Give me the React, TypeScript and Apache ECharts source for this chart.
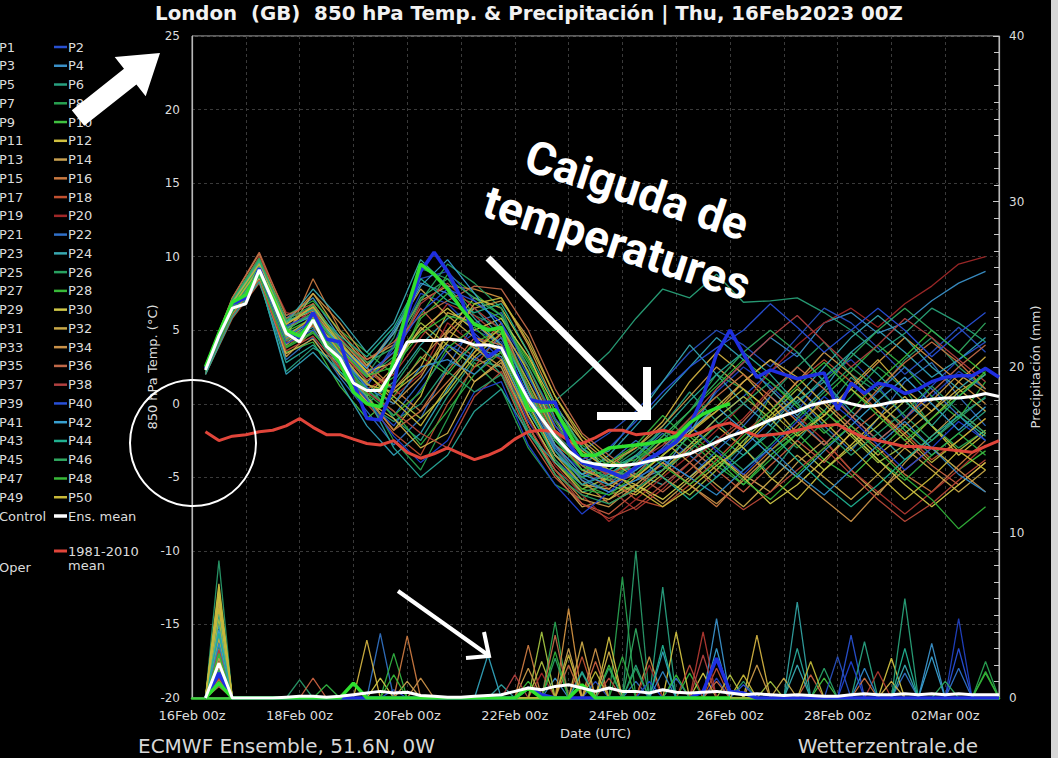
import React, { useEffect, useRef } from "react";
import * as echarts from "echarts";

// ---------- time grids (hours after 16Feb 00z) ----------
const HOURS6 = Array.from({ length: 60 }, (_, i) => 6 + 6 * i); // 6..360
const HOURS12 = Array.from({ length: 30 }, (_, i) => 6 + 12 * i); // 6..354
const X_TICK_LABELS = ["16Feb 00z", "", "18Feb 00z", "", "20Feb 00z", "", "22Feb 00z", "", "24Feb 00z", "", "26Feb 00z", "", "28Feb 00z", "", "02Mar 00z", ""];

// ---------- key lines, 6-hourly ----------
const ENS_MEAN = [2.3,4.6,6.5,6.8,9.1,7.0,4.8,4.2,5.7,3.9, 3.1,1.4,0.9,0.9,2.4,4.2,4.3,4.3,4.4,4.3, 4.0,4.0,3.8,2.0,0.3,-1.0,-2.2,-3.2,-3.9,-4.1, -4.2,-4.2,-4.1,-3.9,-3.7,-3.6,-3.4,-3.0,-2.6,-2.2, -1.9,-1.5,-1.1,-0.8,-0.5,-0.1,0.1,0.25,0.0,-0.2, -0.1,0.1,0.2,0.2,0.3,0.4,0.4,0.5,0.7,0.5];
const CONTROL = [2.4,4.6,6.8,7.2,9.2,7.0,5.0,4.5,6.2,4.4, 4.2,1.5,-1.0,-1.1,1.2,6.0,9.0,10.3,9.0,7.2, 4.5,3.2,3.8,2.2,0.3,0.1,0.1,-2.7,-4.0,-4.3, -4.6,-5.0,-4.3,-3.7,-3.2,-2.6,-1.5,0.5,3.4,5.0, 3.4,1.8,2.3,2.0,1.7,1.9,2.1,-0.4,1.4,0.7, 1.4,1.2,0.7,1.0,1.5,1.8,1.9,1.9,2.4,1.8];
const OPER = [2.5,4.8,6.9,7.4,9.0,7.2,5.0,4.6,5.7,4.0, 2.8,0.8,0.0,-0.2,3.0,6.5,9.5,8.8,7.8,6.5, 5.4,5.0,5.2,2.0,-0.4,-0.5,-0.4,-2.0,-3.5,-3.5, -3.0,-2.9,-2.8,-2.7,-2.5,-2.2,-1.3,-0.7,-0.3,0.0];
const CLIMATE = [-1.9,-2.5,-2.2,-2.1,-1.9,-1.8,-1.5,-1.0,-1.6,-2.1, -2.1,-2.4,-2.7,-2.8,-2.5,-3.3,-3.7,-3.4,-3.0,-3.4, -3.8,-3.5,-3.1,-2.4,-1.9,-1.8,-1.9,-2.5,-2.7,-2.3, -1.8,-1.8,-2.1,-2.0,-1.8,-2.0,-2.2,-1.9,-1.5,-1.3, -1.8,-2.2,-2.1,-2.0,-1.8,-1.6,-1.5,-1.4,-1.9,-2.3, -2.5,-2.7,-2.9,-2.9,-3.0,-3.1,-3.2,-3.3,-2.9,-2.5];
const ENS_MEAN_PRECIP = [0,2.1,0,0,0,0,0.05,0.1,0.1,0.05, 0.1,0.2,0.3,0.4,0.3,0.35,0.15,0.1,0.05,0.05, 0.1,0.15,0.2,0.4,0.6,0.5,0.7,0.8,0.6,0.4, 0.6,0.4,0.4,0.3,0.5,0.35,0.3,0.35,0.4,0.3, 0.2,0.25,0.2,0.15,0.2,0.15,0.1,0.1,0.2,0.25, 0.2,0.2,0.25,0.2,0.25,0.2,0.25,0.2,0.2,0.2];
const CONTROL_PRECIP = [[12,1.5],[150,0.6],[156,0.2],[228,0.4],[234,2.4],[240,0.4],[246,0.3]];
const OPER_PRECIP = [[12,0.9],[72,0.9],[150,0.6],[174,0.8]];

// ---------- members, 850 hPa temperature, 12-hourly (6..354 h) ----------
const P1 = [2.2,6.4,9.0,4.5,5.8,3.5,1.2,3.8,7.5,6.8,5.0,4.2,0.5,-3.0,-4.5,-5.2,-4.8,-3.2,-1.5,0.8,2.5,1.2,-0.5,1.8,3.0,1.2,-1.0,0.5,2.2,1.0];
const P2 = [2.4,6.8,9.4,5.2,6.0,2.8,0.2,-1.5,1.0,3.5,4.8,3.0,-1.2,-3.8,-5.5,-4.6,-5.0,-4.2,-2.8,-1.0,0.5,2.2,3.5,1.5,-0.8,-2.5,-1.0,1.2,3.0,4.2];
const P3 = [2.1,6.2,8.6,3.0,4.5,1.8,-0.5,-2.8,-1.0,2.5,5.5,6.2,2.0,-1.5,-3.5,-4.8,-3.6,-2.0,-3.5,-5.0,-3.0,-1.2,0.5,-1.5,-3.2,-1.0,1.5,2.8,0.5,-1.5];
const P4 = [2.3,6.6,9.2,5.8,7.2,4.5,2.5,5.0,8.2,7.5,5.5,3.8,-0.5,-3.5,-5.0,-6.0,-5.2,-4.5,-2.0,1.0,2.8,4.5,3.2,5.5,6.2,4.8,5.5,7.0,8.2,9.0];
const P5 = [2.5,6.9,9.6,4.2,5.2,2.0,0.0,1.5,4.0,5.8,6.5,4.5,1.0,-2.5,-4.2,-3.8,-4.8,-5.5,-4.0,-2.2,-3.5,-1.8,0.2,1.5,-0.5,-2.0,-3.8,-2.5,-0.8,0.4];
const P6 = [2.0,6.0,8.5,2.2,3.8,2.8,1.5,-1.0,-2.5,0.5,3.0,2.5,-2.0,-4.5,-6.0,-5.5,-3.8,-1.5,0.8,-1.2,-3.0,-4.8,-2.5,-0.5,1.8,0.2,-1.8,-3.5,-2.0,-0.5];
const P7 = [2.4,6.5,9.3,5.5,6.5,4.0,2.0,4.5,9.2,8.5,6.0,5.2,1.5,-2.0,-3.8,-4.5,-3.2,-1.8,-3.0,-4.5,-2.8,0.5,2.5,4.2,2.0,0.8,3.0,4.5,2.5,1.0];
const P8 = [2.3,6.7,9.5,4.8,5.5,3.2,0.8,-2.5,-4.5,-1.0,2.8,1.0,-3.0,-5.5,-6.5,-5.0,-4.0,-2.5,-0.5,2.0,1.0,-1.5,-3.0,-1.2,0.5,2.5,1.0,-1.5,-3.0,-1.8];
const P9 = [2.6,7.0,9.8,6.0,7.0,5.0,3.5,2.0,6.0,8.8,7.5,6.0,3.0,-0.5,-2.8,-4.0,-4.5,-3.0,-1.0,0.5,-1.5,-3.2,-1.8,0.5,2.2,4.0,2.5,0.5,-1.0,1.5];
const P10 = [2.2,6.3,8.8,3.5,4.2,1.2,-1.0,0.5,3.2,2.0,4.2,5.0,0.8,-3.2,-5.5,-6.2,-5.5,-4.0,-2.2,-3.8,-5.5,-3.5,-2.0,-3.8,-5.0,-3.2,-1.5,-3.0,-4.5,-3.2];
const P11 = [2.4,6.6,9.0,4.0,6.2,3.8,1.5,3.0,5.5,4.0,2.5,3.5,-0.8,-4.0,-5.8,-5.0,-3.5,-5.0,-6.2,-4.5,-2.5,-0.8,1.0,-0.5,-2.2,-4.0,-2.8,-1.0,0.8,2.0];
const P12 = [2.1,6.1,8.4,4.5,5.0,2.5,0.5,-1.8,0.5,5.0,7.2,6.5,3.5,-1.0,-4.0,-5.5,-6.2,-4.8,-3.0,-1.5,-3.0,-5.0,-6.5,-4.5,-2.8,-1.0,0.5,-1.5,-3.5,-2.0];
const P13 = [2.5,6.8,9.6,5.0,6.8,4.2,2.2,1.0,2.5,6.2,5.5,4.0,0.0,-3.5,-4.8,-4.2,-3.0,-1.2,1.5,3.5,2.0,0.0,-2.0,-0.8,1.2,3.0,1.0,-0.5,1.5,3.2];
const P14 = [2.3,6.4,9.2,3.2,5.0,3.0,0.5,2.5,5.2,3.5,1.5,2.8,-1.5,-4.8,-7.0,-6.5,-5.5,-6.8,-5.2,-3.5,-4.8,-6.0,-4.0,-2.5,-4.5,-6.2,-4.0,-2.2,-0.5,-2.0];
const P15 = [2.6,7.2,10.2,5.5,7.5,5.5,3.0,4.0,7.0,8.0,7.8,7.2,4.0,0.0,-3.0,-4.5,-5.0,-3.5,-1.8,-0.5,1.5,3.0,1.2,-0.8,1.0,2.8,4.5,3.0,1.5,0.0];
const P16 = [2.2,6.5,9.0,4.4,8.5,5.0,2.8,1.0,-0.5,1.5,3.5,5.5,1.0,-2.8,-5.2,-6.8,-5.8,-4.0,-5.5,-7.0,-5.0,-3.2,-1.5,0.2,-1.5,-3.0,-4.8,-6.0,-4.2,-2.5];
const P17 = [2.4,6.9,9.5,5.8,6.5,3.5,1.8,3.5,6.5,4.5,3.2,2.0,-2.2,-5.0,-6.8,-7.5,-6.0,-4.5,-3.0,-4.5,-6.0,-4.2,-2.5,-4.0,-2.0,-0.5,-2.5,-4.2,-5.5,-4.0];
const P18 = [2.0,5.8,8.2,3.8,5.5,3.0,0.0,-2.0,-3.5,0.0,2.5,4.8,2.5,-1.5,-3.5,-5.0,-6.5,-7.0,-5.5,-3.8,-2.0,-0.5,1.5,3.0,1.5,-0.5,-2.0,-3.8,-2.5,-1.0];
const P19 = [2.5,7.0,10.0,6.2,5.8,2.5,1.0,2.0,4.5,6.8,6.0,4.5,1.5,-1.8,-4.5,-5.8,-7.2,-5.8,-4.0,-2.5,-1.0,1.0,-0.8,-2.5,-4.5,-6.0,-7.5,-6.0,-4.5,-2.8];
const P20 = [2.3,6.6,9.4,4.2,6.0,4.5,2.5,0.5,2.0,5.5,4.0,3.0,-1.0,-4.2,-6.2,-8.0,-6.5,-5.0,-3.5,-1.8,0.0,2.2,4.0,5.5,6.5,5.2,6.8,8.0,9.5,10.0];
const P21 = [2.2,6.3,8.9,4.8,5.5,3.0,1.2,4.0,8.5,9.0,7.0,5.5,2.5,-1.0,-3.2,-2.0,-0.5,1.5,3.5,5.0,4.0,2.5,4.5,6.5,5.5,3.8,2.0,3.5,5.2,3.5];
const P22 = [2.4,6.7,9.3,5.0,6.2,3.6,1.0,-0.8,1.5,4.0,3.0,4.5,0.5,-3.0,-5.0,-4.0,-2.5,-3.8,-5.0,-3.2,-1.5,0.5,-1.0,-2.8,-1.0,0.8,2.5,1.0,-0.8,-2.5];
const P23 = [2.1,6.0,8.6,2.0,3.5,1.5,-1.5,-3.5,-2.0,1.0,3.8,3.2,-0.5,-3.5,-4.8,-3.5,-1.5,0.5,2.5,4.5,3.0,1.0,-0.8,1.0,3.5,5.0,3.5,1.8,3.0,4.5];
const P24 = [2.5,6.8,9.4,5.5,7.8,5.8,3.5,5.5,9.8,8.0,5.8,4.0,0.5,-2.5,-4.0,-3.2,-1.0,1.5,4.0,2.0,0.0,-1.5,0.5,2.5,4.5,6.0,4.5,2.5,1.0,2.5];
const P25 = [2.3,6.5,9.1,4.6,5.0,2.2,0.0,-1.2,0.0,2.5,4.0,2.0,-0.5,0.2,1.8,3.5,5.8,7.8,7.2,8.8,6.9,7.0,7.2,6.2,5.0,3.5,4.8,6.5,5.5,4.2];
const P26 = [2.6,7.1,9.9,5.2,6.0,3.8,1.8,3.2,7.0,9.5,8.2,6.5,2.0,-2.0,-4.2,-5.0,-4.5,-3.2,-1.5,-3.0,-4.5,-2.8,-1.0,0.8,2.5,1.0,-0.8,-2.5,-1.0,0.5];
const P27 = [2.2,6.2,8.7,3.8,4.8,2.8,1.0,-0.5,-2.8,-0.5,2.0,3.5,0.0,-3.2,-5.0,-4.5,-2.8,-0.8,-2.5,-4.2,-5.5,-3.8,-2.0,-0.5,-2.0,-3.8,-5.2,-3.5,-2.0,-3.5];
const P28 = [2.4,6.6,9.2,4.9,5.8,3.4,0.6,1.8,5.8,7.5,6.8,5.8,2.8,-0.5,-3.0,-4.2,-3.8,-2.2,-0.5,1.2,3.0,1.5,-0.2,-2.0,-0.5,1.5,3.2,5.0,3.5,2.0];
const P29 = [2.3,6.4,8.9,4.3,5.6,3.8,2.0,0.5,-1.0,0.8,3.2,4.8,1.5,-2.2,-4.5,-5.2,-6.0,-4.5,-2.8,-1.0,0.5,-1.0,-2.8,-4.5,-3.0,-1.5,0.2,-1.5,-3.2,-1.8];
const P30 = [2.5,6.9,9.7,5.6,6.3,4.0,2.2,2.8,5.0,6.5,5.0,5.8,3.2,-0.2,-2.5,-4.8,-5.5,-6.5,-5.0,-3.5,-5.0,-6.8,-5.5,-3.8,-2.0,-3.8,-5.5,-7.0,-5.5,-4.0];
const P31 = [2.1,6.1,8.5,3.4,4.4,2.0,0.2,-1.0,-3.0,-2.0,1.5,3.0,-0.8,-4.0,-6.0,-6.5,-5.0,-3.5,-2.0,-0.2,1.5,3.0,1.8,0.0,-1.8,-3.5,-2.0,-0.5,1.0,-0.5];
const P32 = [2.4,6.7,9.3,4.7,7.5,4.8,2.6,4.8,7.8,6.0,4.5,3.5,0.0,-3.5,-5.5,-5.8,-4.2,-2.5,-4.0,-5.5,-7.0,-5.2,-3.5,-5.0,-6.5,-4.8,-3.0,-4.5,-6.0,-4.5];
const P33 = [2.2,6.4,9.0,4.0,5.4,3.2,1.4,0.0,1.8,4.8,6.5,7.0,4.5,0.5,-2.5,-4.0,-3.0,-1.5,0.5,2.5,1.0,-0.5,1.5,3.5,2.0,0.0,-1.5,0.2,2.0,0.8];
const P34 = [2.6,7.0,9.6,5.4,6.6,4.4,2.4,1.0,3.0,5.0,3.8,2.5,-1.5,-4.5,-6.5,-7.0,-5.5,-4.0,-5.5,-6.8,-5.2,-3.5,-5.0,-6.5,-8.0,-6.0,-4.5,-3.0,-4.5,-6.0];
const P35 = [2.3,6.5,9.2,4.4,5.3,3.0,0.4,-1.8,-0.5,2.2,4.5,4.0,0.5,-2.8,-4.2,-5.5,-4.8,-3.0,-1.2,0.5,2.0,0.5,-1.2,-2.8,-1.0,1.0,2.8,4.2,2.8,1.0];
const P36 = [2.5,7.2,10.3,6.0,6.8,4.2,3.0,4.2,6.0,7.0,8.0,7.8,5.0,1.0,-2.0,-3.5,-4.8,-6.0,-4.5,-2.8,-1.2,0.8,2.5,1.0,-0.8,-2.5,-1.0,0.8,2.5,4.0];
const P37 = [2.1,6.0,8.4,3.6,4.6,2.4,0.8,-0.5,-2.0,-3.0,0.5,2.2,-1.5,-4.5,-6.8,-7.8,-7.0,-5.5,-4.0,-5.8,-7.2,-6.0,-4.5,-3.0,-4.8,-6.5,-8.0,-6.8,-5.2,-3.8];
const P38 = [2.4,6.6,9.1,5.0,6.4,3.6,1.6,3.0,6.8,8.2,6.5,5.0,1.2,-2.2,-4.0,-4.8,-4.0,-2.8,-1.0,1.0,2.8,4.5,6.0,4.2,2.5,4.0,5.8,4.5,3.0,1.5];
const P39 = [2.2,6.3,8.8,4.1,5.0,2.6,0.3,-2.2,-4.0,-2.5,0.8,1.5,-2.8,-5.5,-7.5,-6.0,-4.5,-3.0,-1.5,-3.2,-4.8,-3.0,-1.2,0.5,-1.0,-2.8,-4.5,-3.0,-1.2,-2.5];
const P40 = [2.5,6.9,9.5,5.3,6.1,3.9,2.0,3.5,6.2,7.8,7.0,5.5,1.8,-1.5,-3.8,-3.0,-1.2,0.8,2.5,3.8,5.0,6.8,5.2,3.5,5.0,6.5,5.0,3.2,4.8,6.2];
const P41 = [2.3,6.5,9.0,4.5,5.7,3.3,1.1,0.0,2.5,3.0,2.0,3.8,0.2,-3.2,-5.2,-6.0,-5.2,-3.8,-5.0,-6.2,-4.5,-3.0,-4.8,-6.2,-4.5,-2.8,-1.2,-3.0,-4.8,-6.0];
const P42 = [2.4,6.8,9.3,5.1,6.0,4.0,2.4,4.8,8.0,9.8,7.5,5.0,0.8,-2.8,-4.8,-5.5,-4.5,-3.2,-1.8,-0.2,-1.8,-3.5,-5.0,-3.2,-1.5,0.2,1.8,0.0,-1.8,-0.2];
const P43 = [2.0,5.9,8.3,2.8,4.0,2.2,0.5,-3.0,-5.0,-3.5,-0.5,1.0,-2.0,-4.0,-5.5,-4.8,-3.5,-1.8,0.2,2.0,3.5,2.0,0.0,1.8,3.5,2.0,0.2,-1.5,0.5,2.0];
const P44 = [2.5,7.0,9.7,5.6,6.4,4.6,3.2,5.2,8.5,7.0,6.2,6.8,3.5,0.0,-3.0,-4.5,-3.5,-5.0,-6.5,-5.0,-3.5,-2.0,-3.8,-5.5,-7.0,-5.5,-3.8,-2.2,-0.8,-2.2];
const P45 = [2.3,6.4,9.1,4.3,5.5,3.1,0.9,1.2,3.8,2.2,0.8,2.0,-1.8,-4.8,-6.2,-6.8,-5.8,-4.5,-3.2,-1.5,0.0,1.5,0.0,-1.8,-3.5,-2.0,-0.5,1.2,-0.5,-2.0];
const P46 = [2.6,7.1,9.8,5.7,6.7,4.3,2.8,3.8,7.2,8.5,7.2,6.0,2.5,-1.2,-4.0,-5.2,-4.0,-2.2,-0.5,1.5,3.5,5.0,3.5,1.5,3.2,5.0,6.5,5.0,3.5,5.5];
const P47 = [2.2,6.2,8.7,3.9,4.9,2.7,0.7,-0.8,0.8,3.8,5.2,3.5,-0.2,-3.8,-5.8,-6.2,-4.8,-3.5,-2.0,-3.5,-5.2,-6.5,-4.8,-3.0,-1.5,-3.2,-5.0,-6.5,-8.5,-7.0];
const P48 = [2.4,6.7,9.4,5.0,6.2,3.7,1.9,2.5,4.8,6.0,5.5,4.8,1.2,-2.5,-4.5,-4.0,-2.8,-4.2,-5.5,-4.0,-2.2,-0.5,1.2,2.8,1.0,-0.8,-2.5,-1.0,0.5,2.2];
const P49 = [2.3,6.6,9.2,4.6,5.9,3.5,1.3,0.8,2.2,4.2,6.8,7.2,4.2,0.5,-2.2,-3.8,-5.0,-3.5,-2.0,-0.5,1.0,-0.5,-2.2,-0.8,1.0,-0.5,-2.2,-4.0,-2.5,-1.0];
const P50 = [2.5,6.9,9.5,5.4,6.6,4.1,2.1,0.2,-1.5,1.2,3.5,5.2,2.2,-1.8,-3.2,-4.5,-5.8,-7.0,-5.8,-4.2,-2.8,-1.0,0.5,-1.2,-3.0,-4.8,-6.5,-5.0,-3.2,-4.5];

// ---------- members, 6-hourly precipitation: [hour, mm] where it is not zero ----------
const R1 = [[12,1.2],[150,0.6],[234,1.2],[342,4.8]];
const R2 = [[12,0.8],[90,0.5],[294,3.8]];
const R3 = [[12,2.0],[84,3.9],[198,1.0],[318,1.5]];
const R4 = [[12,1.5],[162,1.2],[234,4.8],[330,3.3]];
const R5 = [[12,3.5],[138,0.8],[270,5.8]];
const R6 = [[12,4.7],[174,1.5],[210,6.7],[300,3.4]];
const R7 = [[12,8.3],[48,1.1],[198,8.9],[246,1.0]];
const R8 = [[12,2.5],[162,4.6],[192,7.3],[354,2.2]];
const R9 = [[12,1.8],[90,2.7],[222,1.5]];
const R10 = [[12,1.0],[72,0.9],[186,2.0],[282,1.2]];
const R11 = [[12,5.5],[156,4.0],[258,1.0]];
const R12 = [[12,6.9],[186,3.7],[216,4.0],[312,2.4]];
const R13 = [[12,6.1],[78,3.5],[252,3.8]];
const R14 = [[12,4.0],[96,1.0],[168,3.0]];
const R15 = [[12,3.0],[168,5.4],[204,2.5]];
const R16 = [[12,2.2],[96,3.75],[150,3.2]];
const R17 = [[12,1.5],[54,1.2],[180,2.2],[276,1.4]];
const R18 = [[12,2.8],[174,2.5],[234,1.8]];
const R19 = [[12,1.2],[228,4.0],[306,1.6]];
const R20 = [[12,0.9],[156,1.5],[204,2.0]];
const R21 = [[12,1.4],[180,1.0],[288,2.5]];
const R22 = [[12,2.0],[216,1.2],[342,1.8]];
const R23 = [[12,3.8],[132,2.6],[210,2.8]];
const R24 = [[12,4.4],[270,2.0],[318,2.0]];
const R25 = [[12,5.0],[198,2.0],[318,6.0]];
const R26 = [[12,3.2],[162,2.4],[198,1.8]];
const R27 = [[12,1.6],[60,0.8],[192,2.5]];
const R28 = [[12,2.6],[150,1.0],[354,1.5]];
const R29 = [[12,4.8],[156,2.2],[240,1.4]];
const R30 = [[12,6.4],[84,1.2],[228,1.5]];
const R31 = [[12,5.8],[186,2.8],[312,1.0]];
const R32 = [[12,3.6],[174,3.4],[264,1.2]];
const R33 = [[12,2.4],[150,1.8],[252,2.0]];
const R34 = [[12,1.8],[102,1.2],[180,3.0]];
const R35 = [[12,1.1],[168,2.0],[300,1.2]];
const R36 = [[12,0.7],[162,3.8],[234,1.0]];
const R37 = [[12,1.9],[186,1.2],[222,2.0]];
const R38 = [[12,2.9],[144,1.4],[228,2.6]];
const R39 = [[12,1.3],[204,1.0],[294,2.2]];
const R40 = [[12,0.8],[246,0.8],[342,3.0]];
const R41 = [[12,3.3],[210,1.6],[300,1.8]];
const R42 = [[12,4.1],[234,3.0],[330,2.5]];
const R43 = [[12,5.2],[174,1.6],[270,3.0]];
const R44 = [[12,3.9],[210,3.2],[318,3.0]];
const R45 = [[12,2.1],[186,1.8],[282,1.8]];
const R46 = [[12,1.7],[198,4.2],[336,1.0]];
const R47 = [[12,1.0],[162,2.8],[354,1.6]];
const R48 = [[12,2.7],[90,1.4],[216,1.4]];
const R49 = [[12,6.6],[180,1.6],[276,2.2]];
const R50 = [[12,5.4],[168,2.6],[246,1.4]];

const MEMBER_TEMPS = [P1,P2,P3,P4,P5,P6,P7,P8,P9,P10,P11,P12,P13,P14,P15,P16,P17,P18,P19,P20,P21,P22,P23,P24,P25,P26,P27,P28,P29,P30,P31,P32,P33,P34,P35,P36,P37,P38,P39,P40,P41,P42,P43,P44,P45,P46,P47,P48,P49,P50];
const MEMBER_PRECIP = [R1,R2,R3,R4,R5,R6,R7,R8,R9,R10,R11,R12,R13,R14,R15,R16,R17,R18,R19,R20,R21,R22,R23,R24,R25,R26,R27,R28,R29,R30,R31,R32,R33,R34,R35,R36,R37,R38,R39,R40,R41,R42,R43,R44,R45,R46,R47,R48,R49,R50];
const MEMBER_NAMES = MEMBER_TEMPS.map((_, i) => "P" + (i + 1));

// ---------- styles ----------
const MEMBER_COLORS = [
  "#2040c0","#2850d0","#3070c0","#3a90c8","#30a0a0","#28a080","#289868","#28a050","#30b040","#40c040",
  "#a0c040","#d0c040","#d0b040","#c8a050","#d09040","#c87840","#c86040","#c05030","#b03830","#a02828",
  "#2850c0","#3070c8","#30a0b8","#38a8b0","#28a078","#28a060","#30b040","#38b838","#b0c040","#d0c848",
  "#d0b048","#c8a848","#c89848","#c89048","#c87040","#c06848","#b84838","#b04040","#2040d0","#2850d8",
  "#3088c8","#38a0d0","#28a898","#20b090","#28a068","#30a860","#30b038","#38b838","#c0b838","#c8b838"
];
const C_CONTROL = "#1f2fe0";
const C_OPER = "#2ee02e";
const C_MEAN = "#ffffff";
const C_CLIMATE = "#e0453a";
const TXT = "#dcdcdc";
const FONT = "DejaVu Sans";

const TITLE = "London  (GB)  850 hPa Temp. & Precipitación | Thu, 16Feb2023 00Z";

function pairs(hours: number[], vals: number[]) {
  return vals.map((v, i) => [hours[i], v]);
}
function spikes(list: number[][], lastHour = 360) {
  return HOURS6.filter((h) => h <= lastHour).map((h) => {
    const s = list.find((p) => p[0] === h);
    return [h, s ? s[1] : 0];
  });
}

function buildSeries() {
  const s: any[] = [];
  const base = { type: "line", symbol: "none", silent: true, connectNulls: false };
  MEMBER_TEMPS.forEach((arr, i) => {
    s.push({ ...base, name: MEMBER_NAMES[i], yAxisIndex: 0, z: 2, data: pairs(HOURS12, arr), lineStyle: { width: 1.3, color: MEMBER_COLORS[i], opacity: 0.95 } });
  });
  MEMBER_PRECIP.forEach((arr, i) => {
    s.push({ ...base, name: MEMBER_NAMES[i], yAxisIndex: 1, z: 2, data: spikes(arr), lineStyle: { width: 1.3, color: MEMBER_COLORS[i], opacity: 0.95 } });
  });
  s.push({ ...base, name: "1981-2010 mean", yAxisIndex: 0, z: 3, data: pairs(HOURS6, CLIMATE), lineStyle: { width: 3, color: C_CLIMATE } });
  s.push({ ...base, name: "Control", yAxisIndex: 0, z: 4, data: pairs(HOURS6, CONTROL), lineStyle: { width: 3.5, color: C_CONTROL } });
  s.push({ ...base, name: "Control", yAxisIndex: 1, z: 4, data: spikes(CONTROL_PRECIP), lineStyle: { width: 3.5, color: C_CONTROL } });
  s.push({ ...base, name: "Oper", yAxisIndex: 0, z: 5, data: pairs(HOURS6, OPER), lineStyle: { width: 3.5, color: C_OPER } });
  s.push({ ...base, name: "Oper", yAxisIndex: 1, z: 5, data: spikes(OPER_PRECIP, 240), lineStyle: { width: 3.5, color: C_OPER } });
  s.push({ ...base, name: "Ens. mean", yAxisIndex: 0, z: 6, data: pairs(HOURS6, ENS_MEAN), lineStyle: { width: 3, color: C_MEAN } });
  s.push({ ...base, name: "Ens. mean", yAxisIndex: 1, z: 6, data: pairs(HOURS6, ENS_MEAN_PRECIP), lineStyle: { width: 3, color: C_MEAN } });
  return s;
}

function buildGraphic() {
  const g: any[] = [];
  const ROW0 = 47;
  const ROWH = 18.76;
  const legendItem = (name: string, color: string, col: number, y: number, lw = 2.5) => {
    const lx = col === 0 ? -15 : 54;
    g.push({ type: "line", shape: { x1: lx, y1: y, x2: lx + 13, y2: y }, style: { stroke: color, lineWidth: lw } });
    g.push({ type: "text", x: lx + 14, y, style: { text: name, fill: TXT, font: `13px "${FONT}"`, verticalAlign: "middle" } });
  };
  MEMBER_NAMES.forEach((name, i) => legendItem(name, MEMBER_COLORS[i], i % 2, ROW0 + Math.floor(i / 2) * ROWH));
  legendItem("Control", C_CONTROL, 0, ROW0 + 25 * ROWH, 3);
  legendItem("Ens. mean", C_MEAN, 1, ROW0 + 25 * ROWH, 3.5);
  legendItem("1981-2010", C_CLIMATE, 1, 551, 3);
  g.push({ type: "text", x: 68, y: 565, style: { text: "mean", fill: TXT, font: `13px "${FONT}"`, verticalAlign: "middle" } });
  legendItem("Oper", C_OPER, 0, 567, 3);

  // title and footer
  g.push({ type: "text", x: 529, y: 13, style: { text: TITLE, fill: "#f2f2f2", font: `bold 19.8px "${FONT}"`, align: "center", verticalAlign: "middle" } });
  g.push({ type: "text", x: 138, y: 746, style: { text: "ECMWF Ensemble, 51.6N, 0W", fill: "#d8d8d8", font: `20px "${FONT}"`, verticalAlign: "middle" } });
  g.push({ type: "text", x: 978, y: 746, style: { text: "Wetterzentrale.de", fill: "#d8d8d8", font: `20px "${FONT}"`, align: "right", verticalAlign: "middle" } });

  // hand-drawn annotations
  g.push({ type: "polygon", z: 100, shape: { points: [[84.2,125.8],[136.4,84.4],[145.7,96.2],[160,53],[114.7,57.0],[124.0,68.8],[71.8,110.2]] }, style: { fill: "#ffffff" } });
  g.push({ type: "circle", z: 100, shape: { cx: 193, cy: 443, r: 63 }, style: { fill: "none", stroke: "#ffffff", lineWidth: 2 } });
  const rot = (-18 * Math.PI) / 180;
  g.push({ type: "text", z: 100, x: 637, y: 190, rotation: rot, style: { text: "Caiguda de", fill: "#ffffff", font: 'bold 46px "Roboto"', align: "center", verticalAlign: "middle" } });
  g.push({ type: "text", z: 100, x: 617, y: 243, rotation: rot, style: { text: "temperatures", fill: "#ffffff", font: 'bold 46px "Roboto"', align: "center", verticalAlign: "middle" } });
  g.push({ type: "line", z: 100, shape: { x1: 488, y1: 258, x2: 644, y2: 413 }, style: { stroke: "#ffffff", lineWidth: 7 } });
  g.push({ type: "polyline", z: 100, shape: { points: [[597,416],[647,416],[647,367]] }, style: { stroke: "#ffffff", lineWidth: 8, lineJoin: "miter", fill: "none" } });
  g.push({ type: "line", z: 100, shape: { x1: 398, y1: 591, x2: 488, y2: 655 }, style: { stroke: "#ffffff", lineWidth: 4 } });
  g.push({ type: "polyline", z: 100, shape: { points: [[466,658],[489,656],[484,632]] }, style: { stroke: "#ffffff", lineWidth: 4, lineJoin: "miter", fill: "none" } });

  // light screenshot border on the right
  g.push({ type: "rect", z: 100, shape: { x: 1051, y: 0, width: 7, height: 758 }, style: { fill: "#d6d6d6" } });
  return g;
}

export default function App() {
  const ref = useRef<HTMLDivElement>(null);
  useEffect(() => {
    document.body.style.margin = "0";
    document.body.style.background = "#000";
    const chart = echarts.init(ref.current!, null, { renderer: "svg" });
    const option: any = {
      animation: false,
      backgroundColor: "#000000",
      textStyle: { fontFamily: FONT },
      grid: { left: 192, right: 59, top: 36, bottom: 60, show: true, borderColor: "#b8b8b8", borderWidth: 1, backgroundColor: "transparent" },
      xAxis: {
        type: "value", min: 0, max: 360, interval: 24,
        axisLine: { show: true, onZero: false, lineStyle: { color: "#3fd23f", width: 2.5 } },
        axisTick: { show: false },
        axisLabel: { color: TXT, fontSize: 13, margin: 11, showMaxLabel: true, formatter: (v: number) => X_TICK_LABELS[Math.round(v / 24)] ?? "" },
        splitLine: { show: true, lineStyle: { color: "#3a3a3a", type: [3, 3], width: 1 } },
        name: "Date (UTC)", nameLocation: "middle", nameGap: 29, nameMoveOverlap: false, nameTextStyle: { color: TXT, fontSize: 13 },
      },
      yAxis: [
        {
          type: "value", min: -20, max: 25, interval: 5, position: "left",
          axisLine: { show: true, lineStyle: { color: "#b8b8b8", width: 1.2 } },
          axisTick: { show: false },
          axisLabel: { color: TXT, fontSize: 12, margin: 12 },
          splitLine: { show: true, lineStyle: { color: "#3a3a3a", type: [3, 3], width: 1 } },
          name: "850 hPa Temp. (°C)", nameLocation: "middle", nameRotate: 90, nameGap: 33, nameMoveOverlap: false, nameTextStyle: { color: TXT, fontSize: 13 },
        },
        {
          type: "value", min: 0, max: 40, interval: 10, position: "right",
          axisLine: { show: true, lineStyle: { color: "#b8b8b8", width: 1.2 } },
          axisTick: { show: true, inside: true, length: 6, lineStyle: { color: "#c8c8c8" } },
          minorTick: { show: true, splitNumber: 10, length: 5, lineStyle: { color: "#c8c8c8" } },
          axisLabel: { color: TXT, fontSize: 12, margin: 10 },
          splitLine: { show: false },
          name: "Precipitación (mm)", nameLocation: "middle", nameRotate: 90, nameGap: 30, nameMoveOverlap: false, nameTextStyle: { color: TXT, fontSize: 13 },
        },
      ],
      series: buildSeries(),
      graphic: buildGraphic(),
    };
    chart.setOption(option);
    return () => chart.dispose();
  }, []);
  return <div ref={ref} style={{ position: "absolute", left: 0, top: 0, width: 1058, height: 758, background: "#000" }} />;
}
